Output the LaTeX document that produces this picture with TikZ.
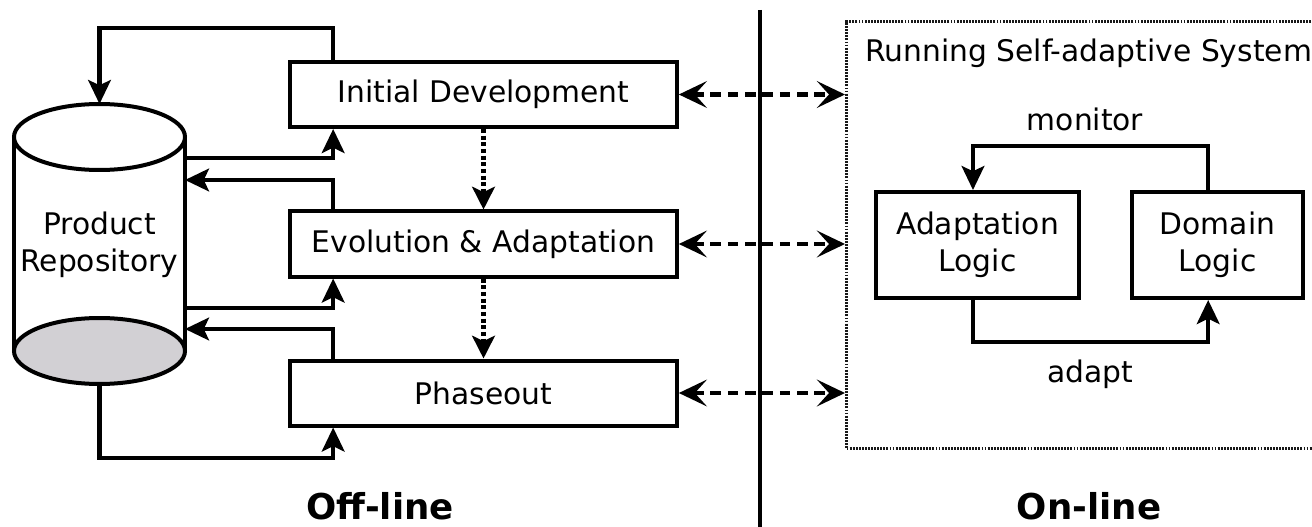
\documentclass[tikz,border=0pt]{standalone}
\usepackage{fontspec}
\setmainfont{DejaVu Sans}
\usetikzlibrary{arrows.meta,positioning,calc}
\definecolor{repogray}{RGB}{210,208,212}
\definecolor{framegray}{RGB}{25,25,25}
\tikzset{
  every node/.style={font=\fontsize{22.3}{28}\selectfont},
  phasebox/.style={draw, line width=3pt, minimum width=290pt, minimum height=48.75pt, inner sep=0pt},
  logicbox/.style={draw, line width=3pt, minimum height=79.5pt, inner sep=0pt, align=center},
  arr/.style={line width=3.2pt, -{Stealth[length=18pt,width=17pt,inset=4pt]}},
  dotarr/.style={line width=3.4pt, dash pattern=on 3pt off 2pt, -{Stealth[length=17pt,width=17pt,inset=4pt]}},
  dasharr/.style={line width=3.4pt, dash pattern=on 8pt off 5pt,
    {Stealth[length=21pt,width=20pt,inset=9pt]}-{Stealth[length=21pt,width=20pt,inset=9pt]}},
  sideword/.style={font=\fontsize{26.7}{30}\selectfont\bfseries, anchor=base, inner sep=0pt},
}
\begin{document}
\begin{tikzpicture}[x=0.75pt, y=-0.75pt]
\useasboundingbox (0,0) rectangle (1312,527);

% product repository (cylinder)
\fill[white] (14,137) rectangle (185,351);
\draw[line width=3pt] (14,137) -- (14,351);
\draw[line width=3pt] (185,137) -- (185,351);
\draw[line width=3pt, fill=repogray] (99.5,351) ellipse [x radius=85.5, y radius=33];
\draw[line width=3pt, fill=white] (99.5,137) ellipse [x radius=85.5, y radius=33];
\node[align=center] (repo) at (99.5,245) {Product\\Repository};
\coordinate (cyltop) at (99.5,104);
\coordinate (cylbot) at (99.5,384);
\coordinate (cylA) at (185,158);
\coordinate (cylB) at (185,180);
\coordinate (cylC) at (185,308);
\coordinate (cylD) at (185,329);
\coordinate (low) at (99.5,458);

% life-cycle phases
\node[phasebox] (init) at (483.5,94.5) {Initial Development};
\node[phasebox] (evo)  at (483.5,244)  {Evolution \& Adaptation};
\node[phasebox] (pha)  at (483.5,393)  {Phaseout};

% exchanges with the repository
\draw[arr] ([xshift=33.75pt]init.north west) -- ++(0,-32) -| (cyltop);
\draw[arr] (cylA) -| ([xshift=33.75pt]init.south west);
\draw[arr] ([xshift=33.75pt]evo.north west) |- (cylB);
\draw[arr] (cylC) -| ([xshift=33.75pt]evo.south west);
\draw[arr] ([xshift=33.75pt]pha.north west) |- (cylD);
\draw[arr] (cylbot) -- (low) -| ([xshift=33.75pt]pha.south west);

% phase succession
\draw[dotarr] (init.south) -- (evo.north);
\draw[dotarr] (evo.south) -- (pha.north);

% off-line / on-line divider
\coordinate (divtop) at (760,10);
\coordinate (divbot) at (760,527);
\draw[line width=2.6pt] (divtop) -- (divbot);

% running system frame
\node[draw=framegray, line width=2.4pt, dash pattern=on 1.4pt off 0.9pt,
      anchor=north west, minimum width=366pt, minimum height=320.25pt, inner sep=0pt]
      (sys) at (845,20) {};
\node[anchor=west, inner sep=0pt] (systitle) at (865,53) {Running Self-adaptive System};

\draw[dasharr] (init.east) -- (init.east -| sys.west);
\draw[dasharr] (evo.east) -- (evo.east -| sys.west);
\draw[dasharr] (pha.east) -- (pha.east -| sys.west);

% feedback loop
\node[logicbox, minimum width=152.25pt] (adl) at (977.5,245) {Adaptation\\Logic};
\node[logicbox, minimum width=128.25pt] (dom) at (1217.5,245) {Domain\\Logic};
\draw[arr] ([xshift=-7pt]dom.north) -- ++(0,-44) -| ([xshift=-3.4pt]adl.north);
\draw[arr] ([xshift=-3.4pt]adl.south) -- ++(0,42) -| ([xshift=-7pt]dom.south);
\node (mon) at (1085,119) {monitor};
\node (adp) at (1090,374) {adapt};

% side captions
\node[sideword] (off) at (380,519) {Off-line};
\node[sideword] (on) at (1089,519) {On-line};
\end{tikzpicture}
\end{document}
